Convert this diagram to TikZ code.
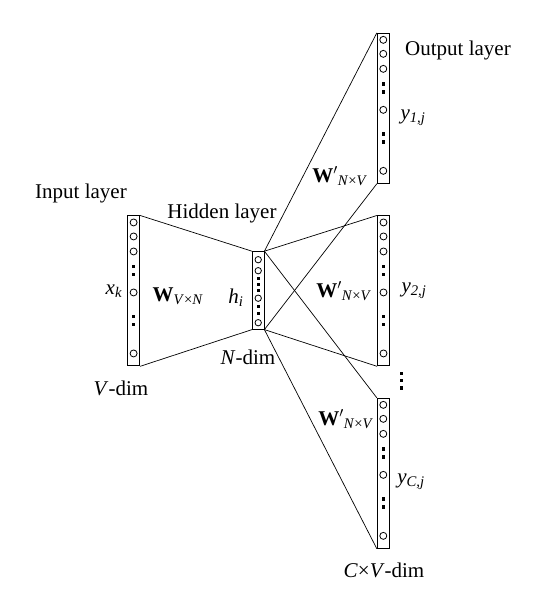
\documentclass[tikz,border=0pt]{standalone}
\usepackage{fontspec}
\setmainfont{Liberation Serif}
\usetikzlibrary{calc}

\tikzset{
  lay/.style={draw,line width=.9pt,minimum width=12pt,inner sep=0pt},
  unit/.style={draw,circle,line width=.8pt,minimum size=7pt,inner sep=0pt},
  dotsq/.style={fill,minimum width=3pt,minimum height=3.4pt,inner sep=0pt},
  lbl/.style={inner sep=0pt},
}

\begin{document}
\begin{tikzpicture}[x=1pt,y=-1pt,line width=.7pt,font=\fontsize{21}{25}\selectfont]
\fill[white] (0,0) rectangle (550,599);
\useasboundingbox (0,0) rectangle (550,599);

% layers
\foreach \b/\x/\y in {in/133.6/290.9, o1/383.3/108.3, o2/383.5/290.9, o3/383.3/473.3}{
  \node[lay,minimum height=150pt] (\b) at (\x,\y) {};
  \foreach \o [count=\i] in {7,21,36,77,138}
    \node[unit] (\b-c\i) at ($(\b.north)+(0,\o)$) {};
  \foreach \o [count=\i] in {51,59,101,109}
    \node[dotsq] (\b-d\i) at ($(\b.north)+(0,\o)$) {};
}
\node[lay,minimum width=11.5pt,minimum height=77.5pt] (hid) at (258.2,290.4) {};
\foreach \o [count=\i] in {8.5,19.5,47,71.5}
  \node[unit,minimum size=6.4pt] (hid-c\i) at ($(hid.north)+(0,\o)$) {};
\foreach \o [count=\i] in {27.5,33.5,39.5,55,62.5}
  \node[dotsq] (hid-d\i) at ($(hid.north)+(0,\o)$) {};

% more output layers
\foreach \y [count=\i] in {373.3,380.6,388}
  \node[dotsq,minimum width=3.2pt] (vd\i) at (401.7,\y) {};

% weights
\draw (in.north east)--(hid.north west) (in.south east)--(hid.south west);
\foreach \b in {o1,o2,o3}
  \draw (hid.north east)--(\b.north west) (hid.south east)--(\b.south west);

% labels
\node[lbl] (lin) at (81,193) {Input layer};
\node[lbl] (lhid) at (222,213) {Hidden layer};
\node[lbl] (lout) at (458,50) {Output layer};
\node[lbl] (lx) at (114,291) {\textit{x}\textsubscript{\textit{k}}};
\node[lbl] (lw) at (178,296) {\textbf{W}\textsubscript{\textit{V}×\textit{N}}};
\node[lbl] (lh) at (236,298) {\textit{h}\textsubscript{\textit{i}}};
\node[lbl] (lN) at (248,357) {\textit{N}-dim};
\node[lbl] (lV) at (121,388) {\textit{V}-dim};
\node[lbl] (lw1) at (340,176) {\textbf{W}$'$\textsubscript{\textit{N}×\textit{V}}};
\node[lbl] (lw2) at (344,291) {\textbf{W}$'$\textsubscript{\textit{N}×\textit{V}}};
\node[lbl] (lw3) at (346,419) {\textbf{W}$'$\textsubscript{\textit{N}×\textit{V}}};
\node[lbl] (ly1) at (413,118) {\textit{y}\textsubscript{\textit{1,j}}};
\node[lbl] (ly2) at (414,291) {\textit{y}\textsubscript{\textit{2,j}}};
\node[lbl] (lyC) at (411,482) {\textit{y}\textsubscript{\textit{C,j}}};
\node[lbl] (lCV) at (384,570) {\textit{C}×\textit{V}-dim};
\end{tikzpicture}
\end{document}
